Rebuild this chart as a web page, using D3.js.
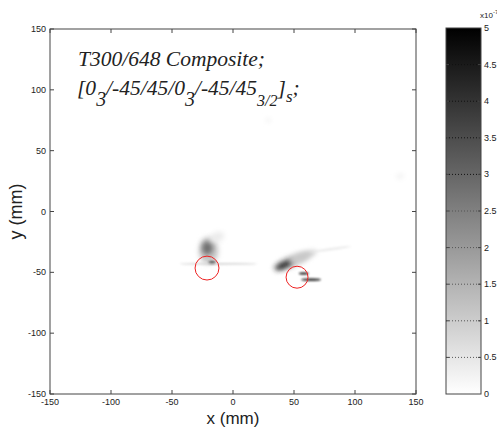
<!DOCTYPE html>
<html>
<head>
<meta charset="utf-8">
<script src="https://d3js.org/d3.v7.min.js"></script>
<style>
body { margin: 0; background: #fff; }
svg text { font-family: "Liberation Sans", Arial, sans-serif; }
</style>
</head>
<body>
<div id="chart"></div>
<script>
// ticks
const xTicks = [-150, -100, -50, 0, 50, 100, 150];
const yTicks = [-150, -100, -50, 0, 50, 100, 150];
const cTicks = [0, 0.5, 1, 1.5, 2, 2.5, 3, 3.5, 4, 4.5, 5];
const cTickLabels = ["0", "0.5", "1", "1.5", "2", "2.5", "3", "3.5", "4", "4.5", "5"];

// hot spots: x, y (mm), value (x1e-7), rx, ry (mm), angle (deg)
const spotX = [-20, -21, -13, -17, -12, 48, 42, 57, 58, 64, 80, 29, 137];
const spotY = [-32, -30, -21, -42, -43, -41, -44, -37, -51, -56, -31, 75, 29];
const spotV = [1.1, 2.8, 0.4, 4.2, 0.9, 0.9, 4.2, 1.1, 5, 4.6, 0.5, 0.25, 0.3];
const spotRx = [8, 4.5, 6, 3, 32, 16, 8, 12, 4, 8, 17, 2, 3];
const spotRy = [11, 5.5, 4, 1.2, 0.7, 5, 2.6, 3, 0.8, 0.9, 0.8, 2, 2];
const spotA = [0, 0, -20, 0, 0, -22, -25, -20, 0, 0, -8, 0, -20];

// red circles: x, y, r (mm)
const ringX = [-21.3, 52.5];
const ringY = [-46.5, -54];
const ringR = [9.8, 9];

const svg = d3.select("#chart").append("svg")
    .attr("width", 497)
    .attr("height", 430);

const margin = {left: 50, top: 29, right: 81, bottom: 36};
const W = 366, H = 365;

const x = d3.scaleLinear().domain([-150, 150]).range([margin.left, margin.left + W]);
const y = d3.scaleLinear().domain([-150, 150]).range([margin.top + H, margin.top]);
const color = d3.scaleLinear().domain([0, 5]).range(["#ffffff", "#000000"]);

const defs = svg.append("defs");
defs.append("filter").attr("id", "soft")
    .attr("x", "-80%").attr("y", "-80%").attr("width", "260%").attr("height", "260%")
    .append("feGaussianBlur").attr("stdDeviation", 2.6);
defs.append("filter").attr("id", "sharp")
    .attr("x", "-50%").attr("y", "-200%").attr("width", "200%").attr("height", "500%")
    .append("feGaussianBlur").attr("stdDeviation", 1.2);
defs.append("clipPath").attr("id", "plotclip")
    .append("rect").attr("x", x(-150)).attr("y", y(150)).attr("width", W).attr("height", H);

// image
const spots = spotX.map((d, i) => ({x: d, y: spotY[i], v: spotV[i], rx: spotRx[i], ry: spotRy[i], a: spotA[i]}));
const sx = W / 300;
svg.append("g").attr("clip-path", "url(#plotclip)")
    .selectAll("ellipse")
    .data(spots)
    .enter()
    .append("ellipse")
    .attr("cx", d => x(d.x))
    .attr("cy", d => y(d.y))
    .attr("rx", d => d.rx * sx)
    .attr("ry", d => d.ry * sx)
    .attr("transform", d => `rotate(${d.a},${x(d.x)},${y(d.y)})`)
    .attr("fill", d => color(d.v))
    .attr("filter", d => d.ry < 1.5 ? "url(#sharp)" : "url(#soft)");

// circles
svg.selectAll(".ring")
    .data(ringX)
    .enter()
    .append("circle")
    .attr("class", "ring")
    .attr("cx", d => x(d))
    .attr("cy", (d, i) => y(ringY[i]))
    .attr("r", (d, i) => ringR[i] * sx)
    .attr("fill", "none")
    .attr("stroke", "#ee2222")
    .attr("stroke-width", 1);

// axes box
const axisColor = "#444";
svg.append("rect")
    .attr("x", x(-150)).attr("y", y(150))
    .attr("width", W).attr("height", H)
    .attr("fill", "none").attr("stroke", axisColor).attr("stroke-width", 1);

const tl = 4;
const tg = svg.append("g").attr("stroke", axisColor).attr("stroke-width", 1);
xTicks.forEach(t => {
    tg.append("line").attr("x1", x(t)).attr("x2", x(t)).attr("y1", y(-150)).attr("y2", y(-150) - tl);
    tg.append("line").attr("x1", x(t)).attr("x2", x(t)).attr("y1", y(150)).attr("y2", y(150) + tl);
});
yTicks.forEach(t => {
    tg.append("line").attr("x1", x(-150)).attr("x2", x(-150) + tl).attr("y1", y(t)).attr("y2", y(t));
    tg.append("line").attr("x1", x(150)).attr("x2", x(150) - tl).attr("y1", y(t)).attr("y2", y(t));
});

svg.append("g").selectAll("text")
    .data(xTicks)
    .enter()
    .append("text")
    .attr("x", d => x(d))
    .attr("y", y(-150) + 11)
    .attr("text-anchor", "middle")
    .attr("font-size", 9)
    .attr("fill", "#222")
    .text(d => d);

svg.append("g").selectAll("text")
    .data(yTicks)
    .enter()
    .append("text")
    .attr("x", x(-150) - 4)
    .attr("y", d => y(d) + 3)
    .attr("text-anchor", "end")
    .attr("font-size", 9)
    .attr("fill", "#222")
    .text(d => d);

// axis labels
svg.append("text")
    .attr("x", x(0))
    .attr("y", 424)
    .attr("text-anchor", "middle")
    .attr("font-size", 17)
    .attr("fill", "#222")
    .text("x (mm)");

svg.append("text")
    .attr("transform", `translate(22,${y(0)}) rotate(-90)`)
    .attr("text-anchor", "middle")
    .attr("font-size", 18)
    .attr("fill", "#222")
    .text("y (mm)");

// title
const title = svg.append("g")
    .attr("font-style", "italic")
    .attr("fill", "#222");
title.append("text")
    .attr("x", 78).attr("y", 66)
    .attr("font-size", 21.5)
    .style("font-family", "'Liberation Serif', serif")
    .text("T300/648 Composite;");
const t2 = title.append("text")
    .attr("x", 77).attr("y", 95)
    .attr("font-size", 21.5)
    .style("font-family", "'Liberation Serif', serif");
t2.append("tspan").text("[0");
t2.append("tspan").attr("dy", 11).attr("font-size", 20).text("3");
t2.append("tspan").attr("dy", -11).text("/-45/45/0");
t2.append("tspan").attr("dy", 11).attr("font-size", 20).text("3");
t2.append("tspan").attr("dy", -11).text("/-45/45");
t2.append("tspan").attr("dy", 11).attr("font-size", 16).text("3/2");
t2.append("tspan").attr("dy", -11).text("]");
t2.append("tspan").attr("dy", 7).attr("font-size", 17).text("s");
t2.append("tspan").attr("dy", -7).text(";");

// colorbar
const cb = {x: 446, w: 35};
const cy = d3.scaleLinear().domain([0, 5]).range([y(-150), y(150) - 1]);
const grad = defs.append("linearGradient").attr("id", "cbgrad")
    .attr("x1", 0).attr("y1", 1).attr("x2", 0).attr("y2", 0);
grad.selectAll("stop")
    .data(cTicks)
    .enter()
    .append("stop")
    .attr("offset", d => d / 5)
    .attr("stop-color", d => color(d));

svg.append("rect")
    .attr("x", cb.x).attr("y", cy(5))
    .attr("width", cb.w).attr("height", cy(0) - cy(5))
    .attr("fill", "url(#cbgrad)")
    .attr("stroke", axisColor).attr("stroke-width", 1);

const cg = svg.append("g");
cTicks.slice(1, -1).forEach(t => {
    cg.append("line")
        .attr("x1", cb.x).attr("x2", cb.x + cb.w)
        .attr("y1", cy(t)).attr("y2", cy(t))
        .attr("stroke", t > 2.5 ? "#111" : "#555")
        .attr("stroke-width", 1)
        .attr("stroke-dasharray", "1,2");
    cg.append("line")
        .attr("x1", cb.x).attr("x2", cb.x + 3)
        .attr("y1", cy(t)).attr("y2", cy(t))
        .attr("stroke", axisColor);
    cg.append("line")
        .attr("x1", cb.x + cb.w - 3).attr("x2", cb.x + cb.w)
        .attr("y1", cy(t)).attr("y2", cy(t))
        .attr("stroke", axisColor);
});

cg.selectAll("text")
    .data(cTicks)
    .enter()
    .append("text")
    .attr("x", cb.x + cb.w + 3)
    .attr("y", d => cy(d) + 3)
    .attr("font-size", 9)
    .attr("fill", "#222")
    .text((d, i) => cTickLabels[i]);

const mult = svg.append("text")
    .attr("x", 480).attr("y", 18)
    .attr("font-size", 8)
    .attr("fill", "#222");
mult.append("tspan").text("x10");
mult.append("tspan").attr("dy", -4).attr("font-size", 6).text("-7");
</script>
</body>
</html>
